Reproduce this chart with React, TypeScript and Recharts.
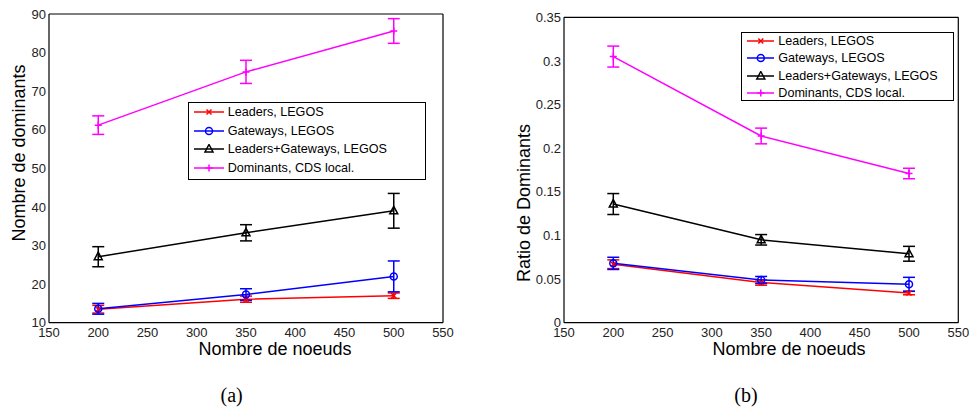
import { LineChart, Line, XAxis, YAxis, ErrorBar, Legend } from "recharts";

const nodes = [200, 350, 500];
const xTicks = [150, 200, 250, 300, 350, 400, 450, 500, 550];

const leadersCount = [13.5, 16.1, 17.0];
const leadersCountErr = [1.0, 0.8, 0.7];
const gatewaysCount = [13.6, 17.3, 22.0];
const gatewaysCountErr = [1.4, 1.5, 4.0];
const combinedCount = [27.1, 33.3, 39.0];
const combinedCountErr = [2.6, 2.1, 4.5];
const dominantsCount = [61.2, 75.0, 85.6];
const dominantsCountErr = [2.4, 3.0, 3.2];
const countTicks = [10, 20, 30, 40, 50, 60, 70, 80, 90];

const leadersRatio = [0.067, 0.046, 0.034];
const leadersRatioErr = [0.005, 0.003, 0.002];
const gatewaysRatio = [0.068, 0.049, 0.044];
const gatewaysRatioErr = [0.007, 0.004, 0.008];
const combinedRatio = [0.136, 0.095, 0.079];
const combinedRatioErr = [0.012, 0.006, 0.0085];
const dominantsRatio = [0.305, 0.214, 0.171];
const dominantsRatioErr = [0.012, 0.009, 0.006];
const ratioTicks = [0, 0.05, 0.1, 0.15, 0.2, 0.25, 0.3, 0.35];

const seriesNames = ["Leaders, LEGOS", "Gateways, LEGOS", "Leaders+Gateways, LEGOS", "Dominants, CDS local."];

const countData = nodes.map((n, i) => ({
  n,
  leaders: leadersCount[i], leadersErr: leadersCountErr[i],
  gateways: gatewaysCount[i], gatewaysErr: gatewaysCountErr[i],
  combined: combinedCount[i], combinedErr: combinedCountErr[i],
  dominants: dominantsCount[i], dominantsErr: dominantsCountErr[i],
}));

const ratioData = nodes.map((n, i) => ({
  n,
  leaders: leadersRatio[i], leadersErr: leadersRatioErr[i],
  gateways: gatewaysRatio[i], gatewaysErr: gatewaysRatioErr[i],
  combined: combinedRatio[i], combinedErr: combinedRatioErr[i],
  dominants: dominantsRatio[i], dominantsErr: dominantsRatioErr[i],
}));

const SANS = "'Liberation Sans', Arial, sans-serif";

const series = [
  { key: "leaders", color: "#ff0000", shape: "x" },
  { key: "gateways", color: "#0000ff", shape: "o" },
  { key: "combined", color: "#000000", shape: "^" },
  { key: "dominants", color: "#ff00ff", shape: "+" },
];

const marker = (shape: string, color: string, cx: number, cy: number, k?: any) => {
  if (shape === "x")
    return <path key={k} d={`M${cx - 2.5},${cy - 2.5}L${cx + 2.5},${cy + 2.5}M${cx - 2.5},${cy + 2.5}L${cx + 2.5},${cy - 2.5}`} stroke={color} strokeWidth={1.5} fill="none" />;
  if (shape === "o") return <circle key={k} cx={cx} cy={cy} r={3.5} stroke={color} strokeWidth={1.5} fill="none" />;
  if (shape === "^")
    return <path key={k} d={`M${cx},${cy - 4.5}L${cx + 4},${cy + 3}L${cx - 4},${cy + 3}Z`} stroke={color} strokeWidth={1.5} fill="none" />;
  return <path key={k} d={`M${cx - 3.5},${cy}L${cx + 3.5},${cy}M${cx},${cy - 3.5}L${cx},${cy + 3.5}`} stroke={color} strokeWidth={1.5} fill="none" />;
};

const makeLegend = (rowH: number, sampleW: number) => (props: any) => {
  // keep the plotting order, not the alphabetical one
  const items = [...(props.payload || [])].sort(
    (a: any, b: any) => series.findIndex((s) => s.key === a.dataKey) - series.findIndex((s) => s.key === b.dataKey)
  );
  return (
    <div style={{ border: "1px solid #000", background: "#fff", boxSizing: "border-box", width: "100%", height: "100%", padding: "0 0 0 5px", fontFamily: SANS, fontSize: 12.6, color: "#000" }}>
      {items.map((entry: any, i: number) => {
        const s = series.find((d) => d.key === entry.dataKey) || series[i];
        return (
          <div key={i} style={{ display: "flex", alignItems: "center", height: rowH, whiteSpace: "nowrap" }}>
            <svg width={sampleW} height={10} style={{ marginRight: 4 }}>
              <line x1={0} x2={sampleW} y1={5} y2={5} stroke={s.color} strokeWidth={1.5} />
              {marker(s.shape, s.color, sampleW / 2, 5)}
            </svg>
            <span>{entry.value}</span>
          </div>
        );
      })}
    </div>
  );
};

interface PanelProps {
  data: any[];
  width: number;
  yDomain: number[];
  yTicks: number[];
  yAxisWidth: number;
  margin: any;
  legendBox: { left: number; top: number; width: number; height: number; rowH: number; sampleW: number };
}

const Panel = ({ data, width, yDomain, yTicks, yAxisWidth, margin, legendBox }: PanelProps) => (
  <LineChart width={width} height={408} data={data} margin={margin}>
    <XAxis dataKey="n" type="number" domain={[150, 550]} ticks={xTicks} allowDataOverflow
      tickLine={false} tickSize={0} tickMargin={5} height={20}
      axisLine={{ stroke: "#000", strokeWidth: 1.2 }} tick={{ fontSize: 13, fill: "#222", fontFamily: SANS }} />
    <XAxis xAxisId="inner" type="number" domain={[150, 550]} ticks={xTicks} allowDataOverflow mirror
      tick={false} tickSize={5} axisLine={false} tickLine={{ stroke: "#000" }} />
    <XAxis xAxisId="top" orientation="top" type="number" domain={[150, 550]} ticks={xTicks} allowDataOverflow mirror
      tick={false} tickSize={5} axisLine={{ stroke: "#000", strokeWidth: 1.2 }} tickLine={{ stroke: "#000" }} />
    <YAxis type="number" domain={yDomain} ticks={yTicks} allowDataOverflow width={yAxisWidth}
      tickLine={false} tickSize={0} tickMargin={3}
      axisLine={{ stroke: "#000", strokeWidth: 1.2 }} tick={{ fontSize: 13, fill: "#222", fontFamily: SANS }} />
    <YAxis yAxisId="inner" type="number" domain={yDomain} ticks={yTicks} allowDataOverflow mirror
      tick={false} tickSize={5} axisLine={false} tickLine={{ stroke: "#000" }} />
    <YAxis yAxisId="right" orientation="right" type="number" domain={yDomain} ticks={yTicks} allowDataOverflow mirror
      tick={false} tickSize={5} axisLine={{ stroke: "#000", strokeWidth: 1.2 }} tickLine={{ stroke: "#000" }} />
    {series.map((s, i) => (
      <Line key={s.key} dataKey={s.key} name={seriesNames[i]} stroke={s.color} strokeWidth={1.5}
        isAnimationActive={false} activeDot={false}
        dot={(p: any) => marker(s.shape, s.color, p.cx, p.cy, `${s.key}-${p.index}`)}>
        <ErrorBar dataKey={`${s.key}Err`} direction="y" width={6} stroke={s.color} strokeWidth={1.5} isAnimationActive={false} />
      </Line>
    ))}
    <Legend layout="horizontal" verticalAlign="middle" align="center"
      wrapperStyle={{ left: legendBox.left, top: legendBox.top, width: legendBox.width, height: legendBox.height }}
      content={makeLegend(legendBox.rowH, legendBox.sampleW)} />
  </LineChart>
);

const textStyle = (left: number, top: number, rotate = false, serif = false, size = 18): any => ({
  position: "absolute",
  left,
  top,
  transform: `translate(-50%, -50%)${rotate ? " rotate(-90deg)" : ""}`,
  whiteSpace: "nowrap",
  fontFamily: serif ? "'Liberation Serif', 'Times New Roman', serif" : SANS,
  fontSize: size,
  color: "#000",
  lineHeight: 1,
});

export default function App() {
  return (
    <div style={{ position: "absolute", left: 0, top: 0, width: 969, height: 408, background: "#fff" }}>
      <div style={{ position: "absolute", left: 0, top: 0 }}>
        <Panel data={countData} width={480} yDomain={[10, 90]} yTicks={countTicks} yAxisWidth={49}
          margin={{ top: 14, right: 37, bottom: 65.3, left: 0 }}
          legendBox={{ left: 187.7, top: 101.7, width: 238.5, height: 78.5, rowH: 18.7, sampleW: 30 }} />
      </div>
      <div style={{ position: "absolute", left: 490, top: 0 }}>
        <Panel data={ratioData} width={479} yDomain={[0, 0.35]} yTicks={ratioTicks} yAxisWidth={74}
          margin={{ top: 17.3, right: 10.7, bottom: 65.3, left: 0 }}
          legendBox={{ left: 250.7, top: 31.7, width: 213.5, height: 69.5, rowH: 17.2, sampleW: 27.6 }} />
      </div>
      <div style={textStyle(18.5, 152.5, true)}>Nombre de dominants</div>
      <div style={textStyle(524, 203, true)}>Ratio de Dominants</div>
      <div style={textStyle(275, 349)}>Nombre de noeuds</div>
      <div style={textStyle(789, 349)}>Nombre de noeuds</div>
      <div style={textStyle(231.7, 395, false, true, 20)}>(a)</div>
      <div style={textStyle(746, 395, false, true, 20)}>(b)</div>
    </div>
  );
}
